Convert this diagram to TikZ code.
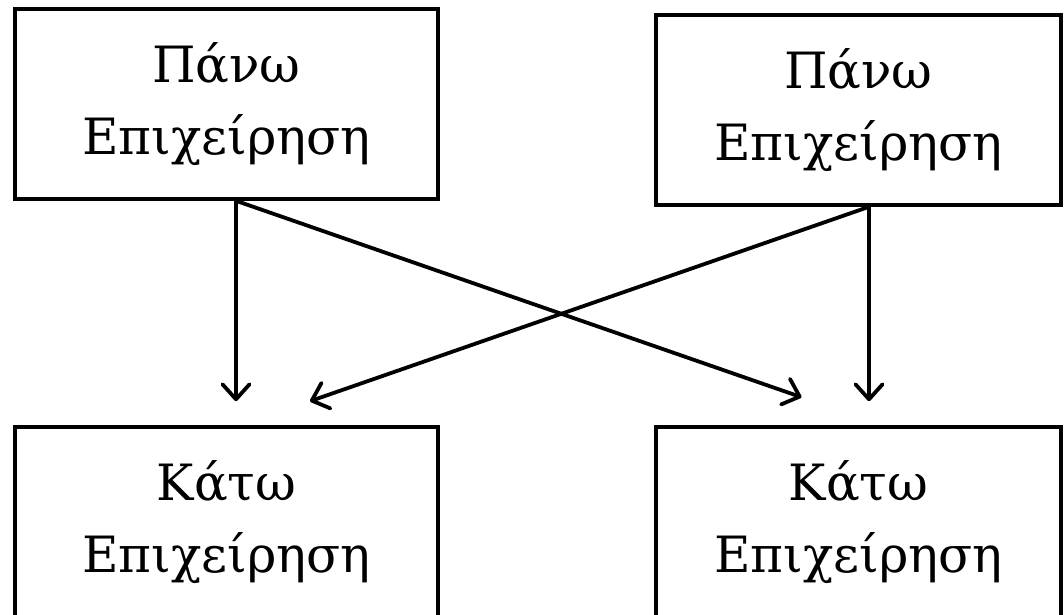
\documentclass[tikz,border=0pt]{standalone}
\usepackage{fontspec}
\setmainfont{DejaVu Serif}
\usetikzlibrary{arrows.meta,calc}
\newcommand{\twolines}[2]{\raisebox{10pt}{\begin{tabular}{@{}c@{}}#1\\#2\end{tabular}}}
\begin{document}
\begin{tikzpicture}[x=1pt,y=-1pt,
  box/.style={draw=black, line width=3.6pt, fill=white,
    font=\fontsize{50}{72}\selectfont, inner sep=0pt},
  arr/.style={line width=3.8pt, -{Straight Barb[length=15pt,width=27pt,round]}}]
\clip (0,0) rectangle (1064,614);
\fill[white] (0,0) rectangle (1064,614);
\node[box, minimum width=423pt, minimum height=190pt] (tl) at (226.5,104) {\twolines{Πάνω}{Επιχείρηση}};
\node[box, minimum width=405pt, minimum height=190pt] (tr) at (858.5,110) {\twolines{Πάνω}{Επιχείρηση}};
\node[box, minimum width=423pt, minimum height=190pt] (bl) at (226.5,522) {\twolines{Κάτω}{Επιχείρηση}};
\node[box, minimum width=405pt, minimum height=190pt] (br) at (858.5,522) {\twolines{Κάτω}{Επιχείρηση}};
\coordinate (tlo) at ($(tl.south)+(9.5,0)$);
\coordinate (tro) at ($(tr.south)+(10.5,0)$);
\coordinate (bli1) at ($(bl.north)+(9.5,-24)$);
\coordinate (bli2) at ($(bl.north)+(83.5,-24)$);
\coordinate (bri1) at ($(br.north)+(-57,-28)$);
\coordinate (bri2) at ($(br.north)+(10.5,-24)$);
\draw[arr] (tlo) -- (bli1);
\draw[arr] (tlo) -- (bri1);
\draw[arr] (tro) -- (bri2);
\draw[arr] (tro) -- (bli2);
\end{tikzpicture}
\end{document}
